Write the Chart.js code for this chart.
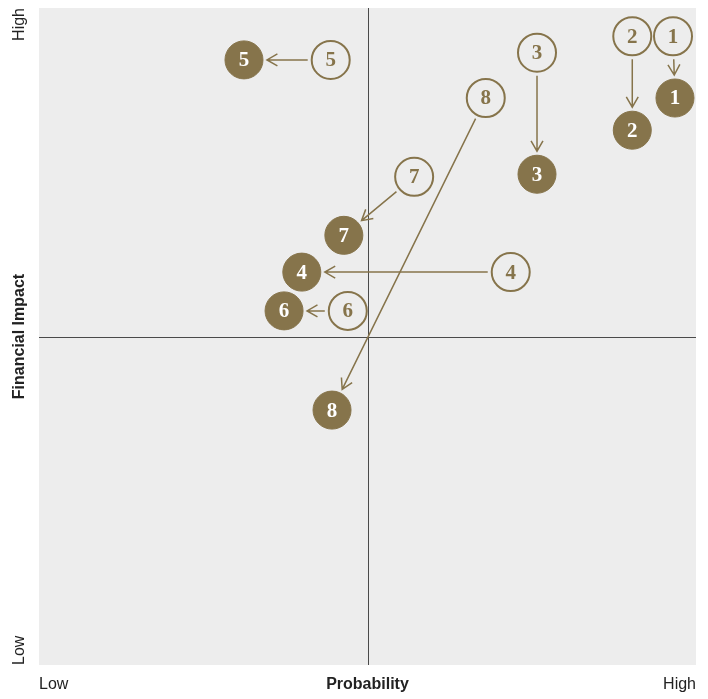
<!DOCTYPE html>
<html>
<head>
<meta charset="utf-8">
<script src="https://cdn.jsdelivr.net/npm/chart.js@4"></script>
<style>
  html, body { margin: 0; padding: 0; background: #ffffff; }
  #wrap { width: 708px; height: 699px; position: relative; }
</style>
</head>
<body>
<div id="wrap"><canvas id="riskChart"></canvas></div>
<script>
// risk ids and positions (0 = low, 10 = high)
const riskIds = ['1', '2', '3', '4', '5', '6', '7', '8'];
const prevProbability = [9.65, 9.03, 7.58, 7.18, 4.44, 4.70, 5.71, 6.80];
const prevImpact      = [9.57, 9.57, 9.32, 5.98, 9.21, 5.39, 7.43, 8.63];
const currProbability = [9.68, 9.03, 7.58, 4.00, 3.12, 3.73, 4.64, 4.46];
const currImpact      = [8.63, 8.14, 7.47, 5.98, 9.21, 5.39, 6.54, 3.88];
const axisLow = 'Low';
const axisHigh = 'High';

const gold = '#86744b';
const plotBg = '#ededed';
const R = 19;

const ctx = document.getElementById('riskChart').getContext('2d');

const prevPoints = riskIds.map((id, i) => ({x: prevProbability[i], y: prevImpact[i]}));
const currPoints = riskIds.map((id, i) => ({x: currProbability[i], y: currImpact[i]}));

// background, centre cross and axis labels
const quadrantPlugin = {
    id: 'quadrant',
    beforeDraw(chart) {
        const {ctx, chartArea: a, scales} = chart;
        ctx.save();
        ctx.fillStyle = plotBg;
        ctx.fillRect(a.left, a.top, a.right - a.left, a.bottom - a.top);
        const cx = Math.round(scales.x.getPixelForValue(5)) + 0.5;
        const cy = Math.round(scales.y.getPixelForValue(5)) + 0.5;
        ctx.strokeStyle = '#4a4a4a';
        ctx.lineWidth = 1;
        ctx.beginPath();
        ctx.moveTo(cx, a.top);
        ctx.lineTo(cx, a.bottom);
        ctx.moveTo(a.left, cy);
        ctx.lineTo(a.right, cy);
        ctx.stroke();

        // x axis text
        ctx.fillStyle = '#222222';
        ctx.textBaseline = 'middle';
        const ty = a.bottom + 20;
        ctx.font = '16px "Liberation Sans", Arial, sans-serif';
        ctx.textAlign = 'left';
        ctx.fillText(axisLow, a.left, ty);
        ctx.textAlign = 'right';
        ctx.fillText(axisHigh, a.right, ty);
        ctx.font = 'bold 16px "Liberation Sans", Arial, sans-serif';
        ctx.textAlign = 'center';
        ctx.fillText('Probability', (a.left + a.right) / 2, ty);

        // y axis text (rotated)
        ctx.save();
        ctx.translate(a.left - 19, 0);
        ctx.rotate(-Math.PI / 2);
        ctx.font = '16px "Liberation Sans", Arial, sans-serif';
        ctx.textAlign = 'right';
        ctx.fillText(axisHigh, -a.top, 0);
        ctx.textAlign = 'left';
        ctx.fillText(axisLow, -a.bottom, 0);
        ctx.font = 'bold 16px "Liberation Sans", Arial, sans-serif';
        ctx.textAlign = 'center';
        ctx.fillText('Financial Impact', -(a.top + a.bottom) / 2, 0);
        ctx.restore();
        ctx.restore();
    },
    afterDatasetsDraw(chart) {
        const {ctx} = chart;
        const prevMeta = chart.getDatasetMeta(0).data;
        const currMeta = chart.getDatasetMeta(1).data;
        ctx.save();
        // arrows from previous to current position
        ctx.strokeStyle = gold;
        ctx.lineWidth = 1.5;
        riskIds.forEach((id, i) => {
            const p0 = prevMeta[i], p1 = currMeta[i];
            const dx = p1.x - p0.x, dy = p1.y - p0.y;
            const len = Math.hypot(dx, dy);
            if (len < 2 * R + 8) return;
            const ux = dx / len, uy = dy / len;
            const sx = p0.x + ux * (R + 4), sy = p0.y + uy * (R + 4);
            const ex = p1.x - ux * (R + 4), ey = p1.y - uy * (R + 4);
            ctx.beginPath();
            ctx.moveTo(sx, sy);
            ctx.lineTo(ex, ey);
            const ang = Math.atan2(dy, dx);
            const head = 12, spread = 0.52;
            ctx.moveTo(ex - head * Math.cos(ang - spread), ey - head * Math.sin(ang - spread));
            ctx.lineTo(ex, ey);
            ctx.lineTo(ex - head * Math.cos(ang + spread), ey - head * Math.sin(ang + spread));
            ctx.stroke();
        });
        // numbers inside the circles
        ctx.font = 'bold 21px "Liberation Serif", "DejaVu Serif", serif';
        ctx.textAlign = 'center';
        ctx.textBaseline = 'middle';
        riskIds.forEach((id, i) => {
            ctx.fillStyle = gold;
            ctx.fillText(id, prevMeta[i].x, prevMeta[i].y + 1);
            ctx.fillStyle = '#ffffff';
            ctx.fillText(id, currMeta[i].x, currMeta[i].y + 1);
        });
        ctx.restore();
    }
};

new Chart(ctx, {
    type: 'scatter',
    data: {
        labels: riskIds,
        datasets: [
            {
                label: 'Previous',
                data: prevPoints,
                pointRadius: R,
                pointHoverRadius: R,
                pointBackgroundColor: plotBg,
                pointBorderColor: gold,
                pointBorderWidth: 2
            },
            {
                label: 'Current',
                data: currPoints,
                pointRadius: R,
                pointHoverRadius: R,
                pointBackgroundColor: gold,
                pointBorderColor: gold,
                pointBorderWidth: 1
            }
        ]
    },
    options: {
        responsive: true,
        maintainAspectRatio: false,
        animation: false,
        layout: {
            autoPadding: false,
            padding: {left: 39, top: 8, right: 12, bottom: 34}
        },
        plugins: {
            legend: { display: false },
            tooltip: { enabled: false },
            title: { display: false }
        },
        scales: {
            x: { type: 'linear', min: 0, max: 10, display: false },
            y: { type: 'linear', min: 0, max: 10, display: false }
        }
    },
    plugins: [quadrantPlugin]
});
</script>
</body>
</html>
